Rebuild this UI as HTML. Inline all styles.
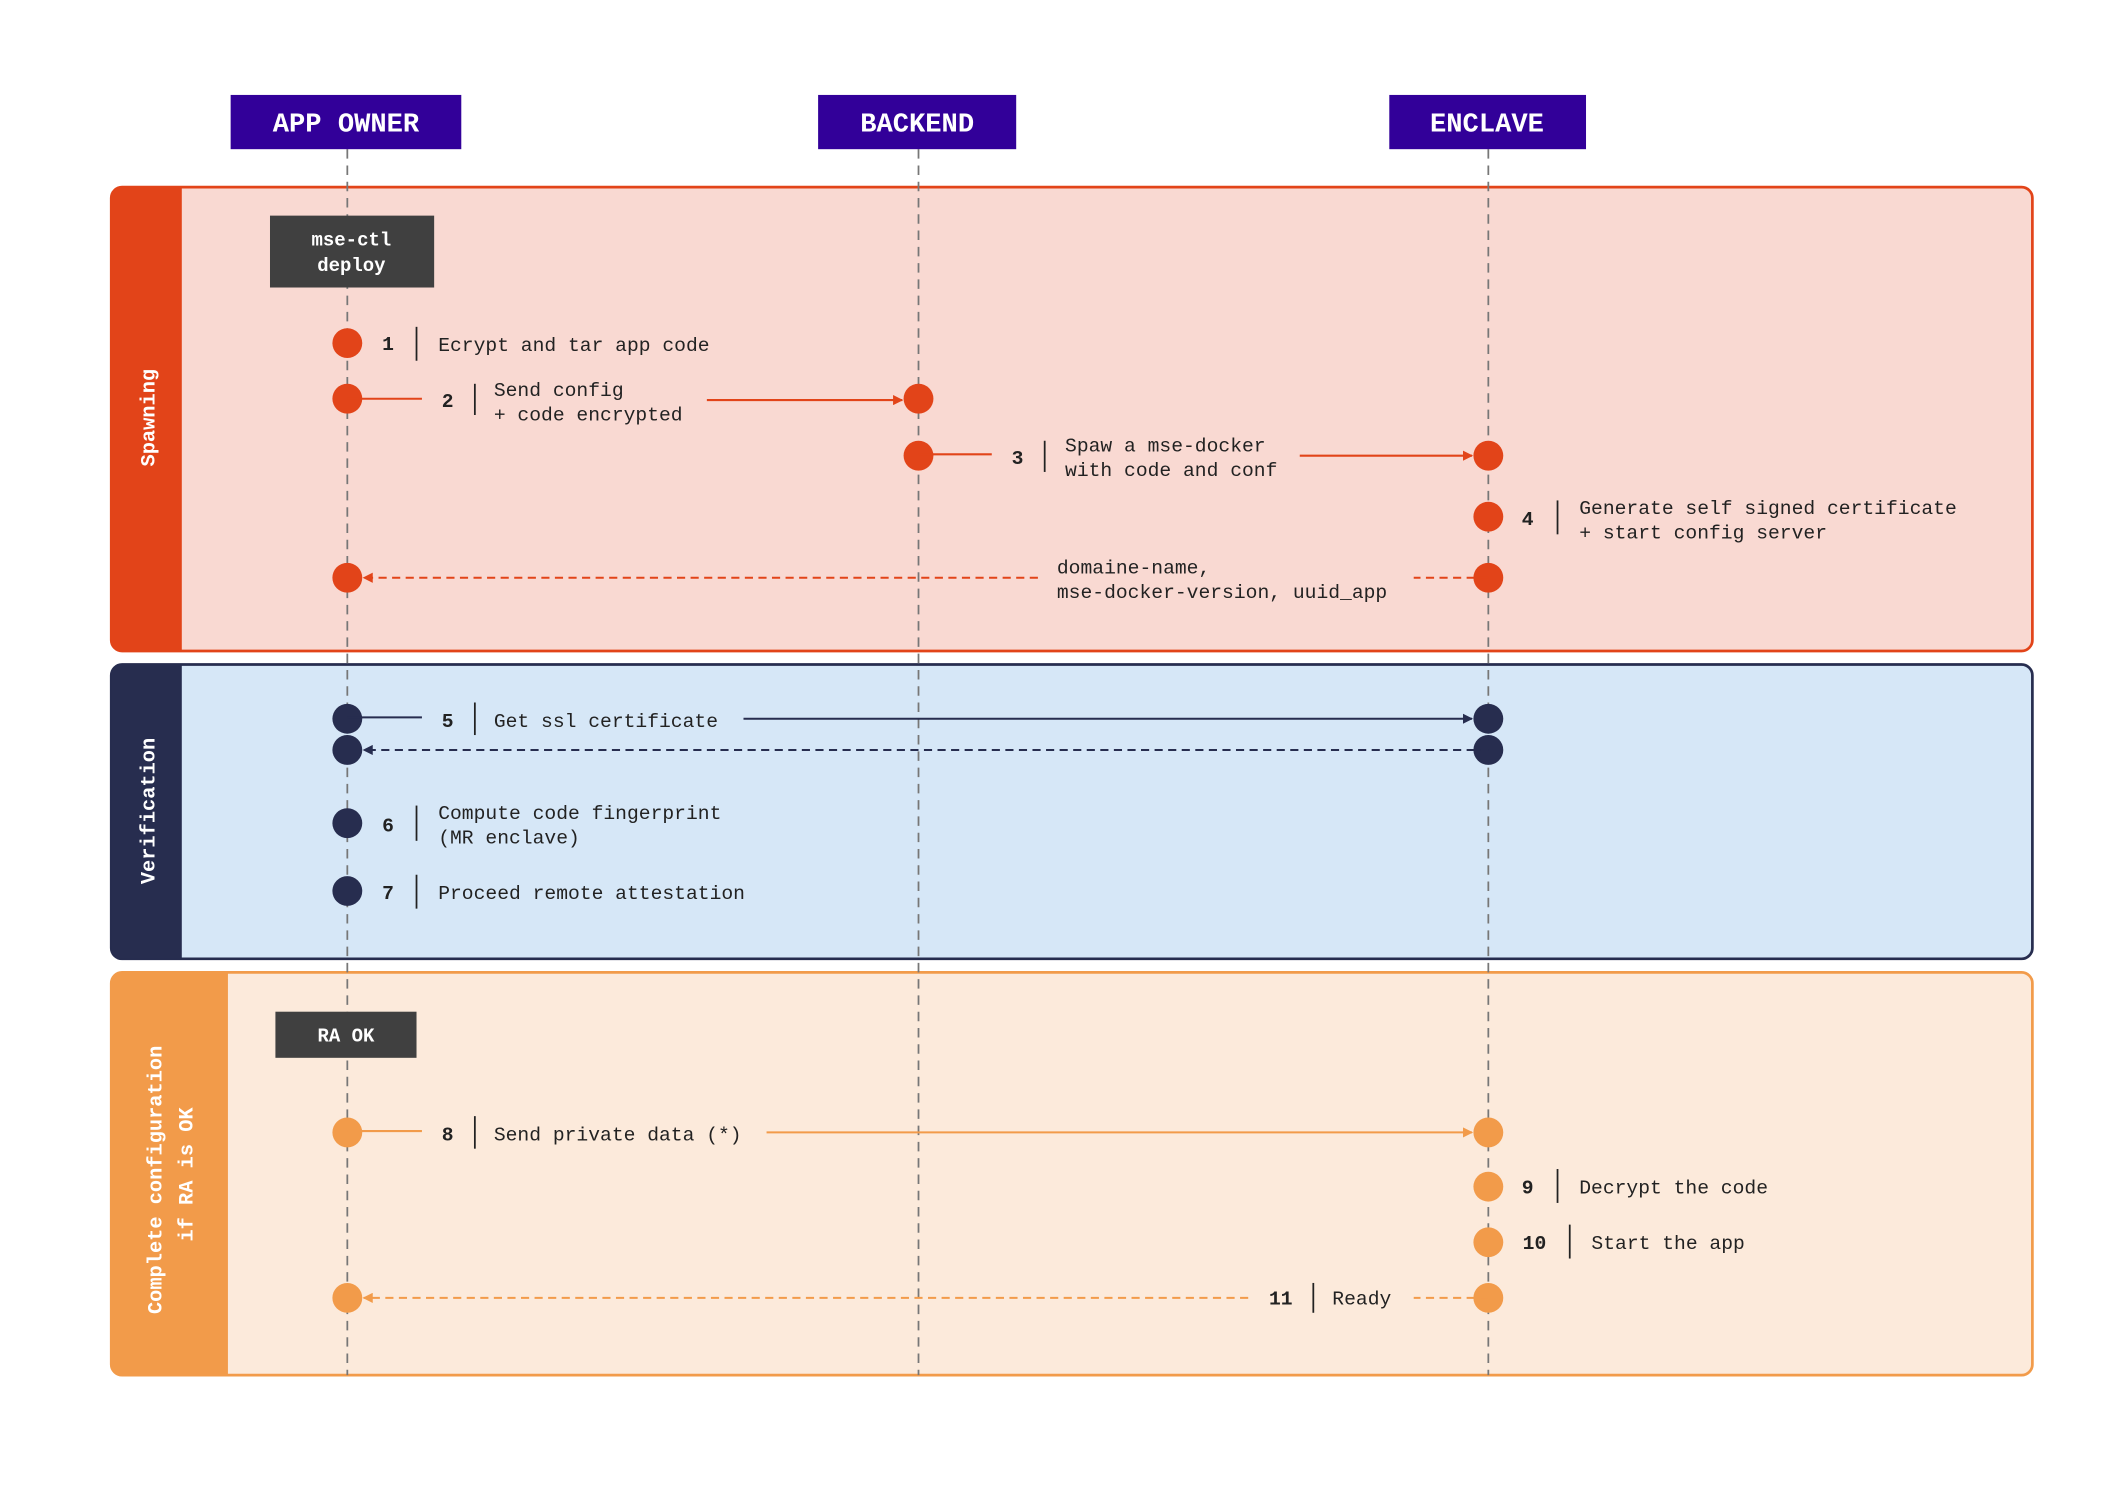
<!DOCTYPE html>
<html><head><meta charset="utf-8"><style>
html,body{margin:0;padding:0;background:#fff}
svg{display:block}
text{font-family:"Liberation Mono","DejaVu Sans Mono",monospace}
.t{font-size:14.5px;fill:#222}
.n{font-size:14.5px;fill:#222;font-weight:bold}
.h{font-size:20px;fill:#fff;font-weight:bold}
.s{font-size:15px;fill:#fff;font-weight:bold}
</style></head><body>
<svg width="2126" height="1504" viewBox="0 0 1567 1109" preserveAspectRatio="none" xmlns="http://www.w3.org/2000/svg">
<defs>
<marker id="ar" viewBox="0 0 10 10" refX="9" refY="5" markerWidth="5" markerHeight="5" orient="auto-start-reverse"><path d="M0,0L10,5L0,10z" fill="#E24419"/></marker>
<marker id="an" viewBox="0 0 10 10" refX="9" refY="5" markerWidth="5" markerHeight="5" orient="auto-start-reverse"><path d="M0,0L10,5L0,10z" fill="#272D4F"/></marker>
<marker id="ao" viewBox="0 0 10 10" refX="9" refY="5" markerWidth="5" markerHeight="5" orient="auto-start-reverse"><path d="M0,0L10,5L0,10z" fill="#F29B4A"/></marker>
</defs>
<g>
<rect x="82" y="138" width="1416" height="342" rx="8" fill="#F9D9D2" stroke="#E24419" stroke-width="2"/>
<path d="M90,138H134V480H90A8,8 0 0 1 82,472V146A8,8 0 0 1 90,138Z" fill="#E24419"/>
<text class="s" transform="translate(114,308) rotate(-90)" text-anchor="middle">Spawning</text>
</g>
<g>
<rect x="82" y="490" width="1416" height="217" rx="8" fill="#D6E7F7" stroke="#272D4F" stroke-width="2"/>
<path d="M90,490H134V707H90A8,8 0 0 1 82,699V498A8,8 0 0 1 90,490Z" fill="#272D4F"/>
<text class="s" transform="translate(114,598) rotate(-90)" text-anchor="middle">Verification</text>
</g>
<g>
<rect x="82" y="717" width="1416" height="297" rx="8" fill="#FCEADB" stroke="#F29B4A" stroke-width="2"/>
<path d="M90,717H168V1014H90A8,8 0 0 1 82,1006V725A8,8 0 0 1 90,717Z" fill="#F29B4A"/>
<text class="s" transform="translate(119,870) rotate(-90)" text-anchor="middle">Complete configuration</text>
<text class="s" transform="translate(142,866) rotate(-90)" text-anchor="middle">if RA is OK</text>
</g>
<g stroke="#777" stroke-width="1.3" stroke-dasharray="7,5">
<line x1="256" y1="110" x2="256" y2="1014"/>
<line x1="677" y1="110" x2="677" y2="1014"/>
<line x1="1097" y1="110" x2="1097" y2="1014"/>
</g>
<g><rect x="170" y="70" width="170" height="40" fill="#320099"/><text class="h" x="255" y="97" text-anchor="middle">APP OWNER</text></g>
<g><rect x="603" y="70" width="146" height="40" fill="#320099"/><text class="h" x="676" y="97" text-anchor="middle">BACKEND</text></g>
<g><rect x="1024" y="70" width="145" height="40" fill="#320099"/><text class="h" x="1096" y="97" text-anchor="middle">ENCLAVE</text></g>
<g><rect x="199" y="159" width="121" height="53" fill="#404040"/><text class="s" style="font-size:14px" x="259" y="181" text-anchor="middle">mse-ctl</text><text class="s" style="font-size:14px" x="259" y="200" text-anchor="middle">deploy</text></g>
<g><rect x="203" y="746" width="104" height="34" fill="#404040"/><text class="s" style="font-size:14px" x="255" y="768" text-anchor="middle">RA OK</text></g>

<g fill="#E24419">
<ellipse cx="256" cy="253" rx="11" ry="11"/><ellipse cx="256" cy="294" rx="11" ry="11"/><ellipse cx="677" cy="294" rx="11" ry="11"/>
<ellipse cx="677" cy="336" rx="11" ry="11"/><ellipse cx="1097" cy="336" rx="11" ry="11"/><ellipse cx="1097" cy="381" rx="11" ry="11"/>
<ellipse cx="256" cy="426" rx="11" ry="11"/><ellipse cx="1097" cy="426" rx="11" ry="11"/>
</g>
<g stroke="#E24419" stroke-width="1.5" fill="none">
<line x1="256" y1="294" x2="311" y2="294"/><line x1="521" y1="295" x2="665" y2="295" marker-end="url(#ar)"/>
<line x1="677" y1="335" x2="731" y2="335"/><line x1="958" y1="336" x2="1085" y2="336" marker-end="url(#ar)"/>
<line x1="1097" y1="426" x2="1042" y2="426" stroke-dasharray="6,4"/>
<line x1="765" y1="426" x2="268" y2="426" stroke-dasharray="6,4" marker-end="url(#ar)"/>
</g>
<g stroke="#222" stroke-width="1.3">
<line x1="307" y1="241" x2="307" y2="266"/><line x1="350" y1="283" x2="350" y2="306"/>
<line x1="770" y1="325" x2="770" y2="348"/><line x1="1148" y1="369" x2="1148" y2="394"/>
<line x1="307" y1="594" x2="307" y2="620"/><line x1="307" y1="645" x2="307" y2="670"/>
<line x1="350" y1="518" x2="350" y2="542"/><line x1="350" y1="823" x2="350" y2="847"/>
<line x1="1148" y1="862" x2="1148" y2="887"/><line x1="1157" y1="903" x2="1157" y2="928"/>
<line x1="968" y1="946" x2="968" y2="968"/>
</g>
<g><text class="n" x="286" y="258" text-anchor="middle">1</text><text class="t" x="323" y="259">Ecrypt and tar app code</text></g>
<g><text class="n" x="330" y="300" text-anchor="middle">2</text><text class="t" x="364" y="292">Send config</text><text class="t" x="364" y="310">+ code encrypted</text></g>
<g><text class="n" x="750" y="342" text-anchor="middle">3</text><text class="t" x="785" y="333">Spaw a mse-docker</text><text class="t" x="785" y="351">with code and conf</text></g>
<g><text class="n" x="1126" y="387" text-anchor="middle">4</text><text class="t" x="1164" y="379">Generate self signed certificate</text><text class="t" x="1164" y="397">+ start config server</text></g>
<g><text class="t" x="779" y="423">domaine-name,</text><text class="t" x="779" y="441">mse-docker-version, uuid_app</text></g>

<g fill="#272D4F">
<ellipse cx="256" cy="530" rx="11" ry="11"/><ellipse cx="1097" cy="530" rx="11" ry="11"/>
<ellipse cx="256" cy="553" rx="11" ry="11"/><ellipse cx="1097" cy="553" rx="11" ry="11"/>
<ellipse cx="256" cy="607" rx="11" ry="11"/><ellipse cx="256" cy="657" rx="11" ry="11"/>
</g>
<g stroke="#272D4F" stroke-width="1.5" fill="none">
<line x1="256" y1="529" x2="311" y2="529"/><line x1="548" y1="530" x2="1085" y2="530" marker-end="url(#an)"/>
<line x1="1097" y1="553" x2="268" y2="553" stroke-dasharray="6,4" marker-end="url(#an)"/>
</g>
<g><text class="n" x="330" y="536" text-anchor="middle">5</text><text class="t" x="364" y="536">Get ssl certificate</text></g>
<g><text class="n" x="286" y="613" text-anchor="middle">6</text><text class="t" x="323" y="604">Compute code fingerprint</text><text class="t" x="323" y="622">(MR enclave)</text></g>
<g><text class="n" x="286" y="663" text-anchor="middle">7</text><text class="t" x="323" y="663">Proceed remote attestation</text></g>

<g fill="#F29B4A">
<ellipse cx="256" cy="835" rx="11" ry="11"/><ellipse cx="1097" cy="835" rx="11" ry="11"/>
<ellipse cx="1097" cy="875" rx="11" ry="11"/><ellipse cx="1097" cy="916" rx="11" ry="11"/>
<ellipse cx="256" cy="957" rx="11" ry="11"/><ellipse cx="1097" cy="957" rx="11" ry="11"/>
</g>
<g stroke="#F29B4A" stroke-width="1.5" fill="none">
<line x1="256" y1="834" x2="311" y2="834"/><line x1="565" y1="835" x2="1085" y2="835" marker-end="url(#ao)"/>
<line x1="1097" y1="957" x2="1042" y2="957" stroke-dasharray="6,4"/>
<line x1="920" y1="957" x2="268" y2="957" stroke-dasharray="6,4" marker-end="url(#ao)"/>
</g>
<g><text class="n" x="330" y="841" text-anchor="middle">8</text><text class="t" x="364" y="841">Send private data (*)</text></g>
<g><text class="n" x="1126" y="880" text-anchor="middle">9</text><text class="t" x="1164" y="880">Decrypt the code</text></g>
<g><text class="n" x="1131" y="921" text-anchor="middle">10</text><text class="t" x="1173" y="921">Start the app</text></g>
<g><text class="n" x="944" y="962" text-anchor="middle">11</text><text class="t" x="982" y="962">Ready</text></g>
</svg>
</body></html>
